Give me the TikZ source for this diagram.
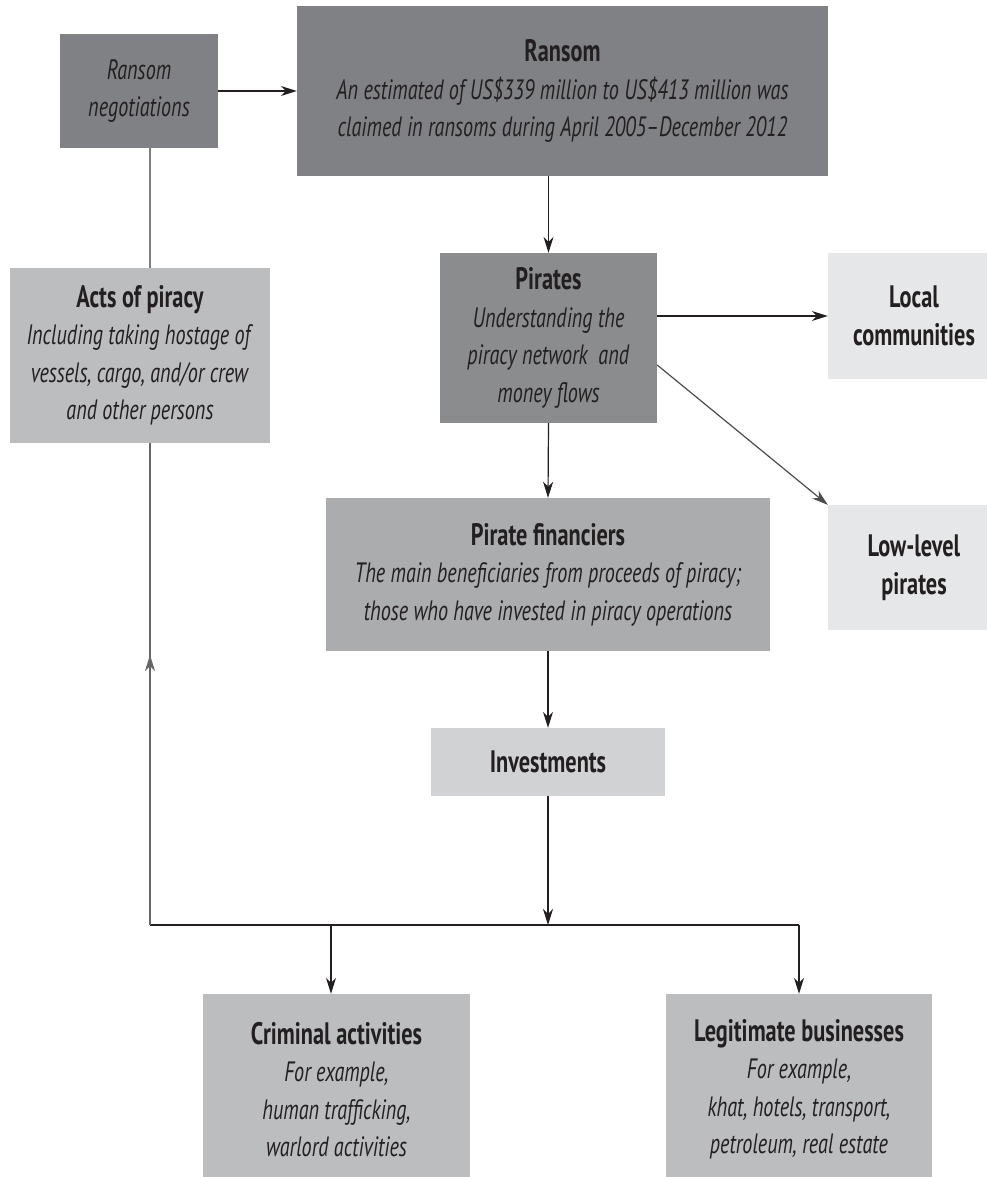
\documentclass[tikz,border=0pt]{standalone}
\usepackage{fontspec}
\setmainfont{PT Sans}[FakeStretch=0.72]
\usepackage{tikz}
\usetikzlibrary{arrows.meta, positioning, calc}
\definecolor{shadeA}{RGB}{128, 129, 133}
\definecolor{shadeB}{RGB}{139, 140, 142}
\definecolor{shadeC}{RGB}{171, 172, 174}
\definecolor{shadeD}{RGB}{187, 189, 191}
\definecolor{shadeE}{RGB}{209, 210, 212}
\definecolor{shadeF}{RGB}{230, 231, 232}
\definecolor{inkgray}{RGB}{35, 31, 32}
\newcommand{\hd}[1]{{\fontsize{31}{37.5}\selectfont\bfseries #1}}

\begin{document}
\begin{tikzpicture}[x=1pt, y=-1pt, >={Stealth[length=16pt, width=10pt, inset=5pt]},
    box/.style={inner sep=0pt, align=center, text=inkgray, font=\fontsize{28}{37.5}\selectfont},
    link/.style={line width=1.2pt, inkgray}]
    \path[use as bounding box, fill=white] (0,0) rectangle (987,1177);
    \node[box, fill=shadeA, minimum width=158, minimum height=114] (nego) at (139,91) {\textit{Ransom}\\\textit{negotiations}};
    \node[box, fill=shadeA, minimum width=531, minimum height=170] (ransom) at (562.5,91) {\hd{Ransom}\\\textit{An estimated of US\$339 million to US\$413 million was}\\\textit{claimed in ransoms during April 2005--December 2012}};
    \node[box, fill=shadeB, minimum width=217, minimum height=170] (pirates) at (548.5,338) {\hd{Pirates}\\\textit{Understanding the}\\\textit{piracy network\ \ and}\\\textit{money flows}};
    \node[box, fill=shadeF, minimum width=172, minimum height=126] (local) at (914,316) {\hd{Local}\\\hd{communities}};
    \node[box, fill=shadeF, minimum width=172, minimum height=125] (lowlevel) at (914,567.5) {\hd{Low-level}\\\hd{pirates}};
    \node[box, fill=shadeD, minimum width=260, minimum height=175] (acts) at (140,355.5) {\hd{Acts of piracy}\\\textit{Including taking hostage of}\\\textit{vessels, cargo, and/or crew}\\\textit{and other persons}};
    \node[box, fill=shadeC, minimum width=444, minimum height=153] (financiers) at (548,574.5) {\hd{Pirate financiers}\\\textit{The main beneficiaries from proceeds of piracy;}\\\textit{those who have invested in piracy operations}};
    \node[box, fill=shadeE, minimum width=234, minimum height=68] (invest) at (548,762) {\hd{Investments}};
    \node[box, fill=shadeD, minimum width=267, minimum height=191] (criminal) at (336.5,1089.5) {\hd{Criminal activities}\\\textit{For example,}\\\textit{human trafficking,}\\\textit{warlord activities}};
    \node[box, fill=shadeD, minimum width=266, minimum height=191] (legit) at (799,1089.5) {\hd{Legitimate businesses}\\\textit{For example,}\\\textit{khat, hotels, transport,}\\\textit{petroleum, real estate}};
    \coordinate (turn) at (150,925);
    \coordinate (crimdrop) at (331,925);
    \coordinate (uptip) at (150,655);
    \draw[link, ->] (nego.east) -- (nego.east -| ransom.west);
    \draw[line width=1.2pt, gray] (nego.south -| turn) -- (acts.north -| turn);
    \draw[link, ->] (pirates.north |- ransom.south) -- (pirates.north);
    \draw[link, ->] (pirates.east |- local.west) -- (local.west);
    \draw[line width=1.2pt, black!70, ->] ($(pirates.east)+(0,27)$) -- (lowlevel.north west);
    \draw[link, ->] (pirates.south) -- (financiers.north);
    \draw[link, ->] (financiers.south) -- (invest.north);
    \draw[link, ->] (invest.south) -- (invest.south |- turn);
    \draw[link] (turn) -- (turn -| legit.north);
    \draw[link, ->] (crimdrop) -- (crimdrop |- criminal.north);
    \draw[link, ->] (turn -| legit.north) -- (legit.north);
    \draw[line width=1.2pt, black!60] (turn) -- (acts.south -| turn);
    \draw[line width=1.2pt, black!60, ->] (turn) -- (uptip);
\end{tikzpicture}
\end{document}
